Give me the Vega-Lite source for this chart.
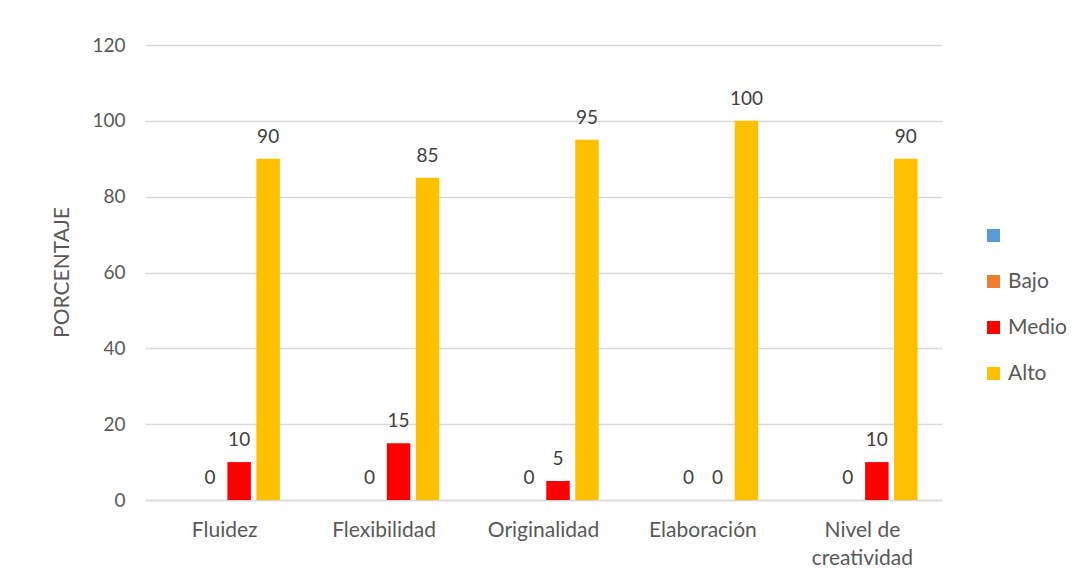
{
  "$schema": "https://vega.github.io/schema/vega-lite/v6.json",
  "width": 797,
  "height": 455,
  "autosize": "none",
  "padding": {"left": 145, "top": 45, "right": 138, "bottom": 82},
  "background": "white",
  "data": {
    "values": [
      {"cat": "Fluidez", "serie": " ", "valor": null},
      {"cat": "Fluidez", "serie": "Bajo", "valor": 0},
      {"cat": "Fluidez", "serie": "Medio", "valor": 10},
      {"cat": "Fluidez", "serie": "Alto", "valor": 90},
      {"cat": "Flexibilidad", "serie": " ", "valor": null},
      {"cat": "Flexibilidad", "serie": "Bajo", "valor": 0},
      {"cat": "Flexibilidad", "serie": "Medio", "valor": 15},
      {"cat": "Flexibilidad", "serie": "Alto", "valor": 85},
      {"cat": "Originalidad", "serie": " ", "valor": null},
      {"cat": "Originalidad", "serie": "Bajo", "valor": 0},
      {"cat": "Originalidad", "serie": "Medio", "valor": 5},
      {"cat": "Originalidad", "serie": "Alto", "valor": 95},
      {"cat": "Elaboración", "serie": " ", "valor": null},
      {"cat": "Elaboración", "serie": "Bajo", "valor": 0},
      {"cat": "Elaboración", "serie": "Medio", "valor": 0},
      {"cat": "Elaboración", "serie": "Alto", "valor": 100},
      {"cat": "Nivel de creatividad", "serie": " ", "valor": null},
      {"cat": "Nivel de creatividad", "serie": "Bajo", "valor": 0},
      {"cat": "Nivel de creatividad", "serie": "Medio", "valor": 10},
      {"cat": "Nivel de creatividad", "serie": "Alto", "valor": 90}
    ]
  },
  "encoding": {
    "x": {
      "field": "cat",
      "type": "nominal",
      "sort": null,
      "scale": {"paddingInner": 0.307, "paddingOuter": 0.153},
      "axis": {
        "title": null,
        "labelAngle": 0,
        "labelFont": "Lato",
        "labelFontSize": 21,
        "labelColor": "#595959",
        "labelPadding": 19,
        "labelLineHeight": 28,
        "labelExpr": "datum.label == 'Nivel de creatividad' ? ['Nivel de', 'creatividad'] : datum.label",
        "ticks": false,
        "domainColor": "#d9d9d9",
        "domainWidth": 1.5,
        "grid": false
      }
    },
    "xOffset": {
      "field": "serie",
      "type": "nominal",
      "scale": {"domain": [" ", "Bajo", "Medio", "Alto"], "paddingInner": 0.19, "paddingOuter": 0}
    },
    "y": {
      "field": "valor",
      "type": "quantitative",
      "scale": {"domain": [0, 120]},
      "axis": {
        "title": "PORCENTAJE",
        "titleFont": "Lato",
        "titleFontSize": 21,
        "titleFontWeight": "normal",
        "titleColor": "#595959",
        "titleX": -83,
        "titleY": 227,
        "titleAngle": 270,
        "titleBaseline": "middle",
        "titleAlign": "center",
        "values": [0, 20, 40, 60, 80, 100, 120],
        "labelFont": "Lato",
        "labelFontSize": 19,
        "labelColor": "#595959",
        "labelPadding": 20,
        "ticks": false,
        "domain": false,
        "gridColor": "#d9d9d9",
        "gridWidth": 1.5
      }
    }
  },
  "layer": [
    {
      "mark": {"type": "bar"},
      "encoding": {
        "color": {
          "field": "serie",
          "type": "nominal",
          "scale": {
            "domain": [" ", "Bajo", "Medio", "Alto"],
            "range": ["#5b9bd5", "#ed7d31", "#ff0000", "#ffc000"]
          },
          "legend": {
            "title": null,
            "orient": "none",
            "legendX": 838,
            "legendY": 180,
            "symbolType": "square",
            "symbolSize": 169,
            "symbolStrokeWidth": 0,
            "labelFont": "Lato",
            "labelFontSize": 21,
            "labelColor": "#595959",
            "labelOffset": 4,
            "rowPadding": 24
          }
        }
      }
    },
    {
      "transform": [{"filter": "datum.valor != null"}],
      "mark": {
        "type": "text",
        "font": "Lato",
        "fontSize": 19,
        "color": "#404040",
        "baseline": "alphabetic",
        "dy": -16
      },
      "encoding": {
        "text": {"field": "valor", "type": "quantitative"}
      }
    }
  ],
  "config": {
    "view": {"stroke": null}
  }
}
